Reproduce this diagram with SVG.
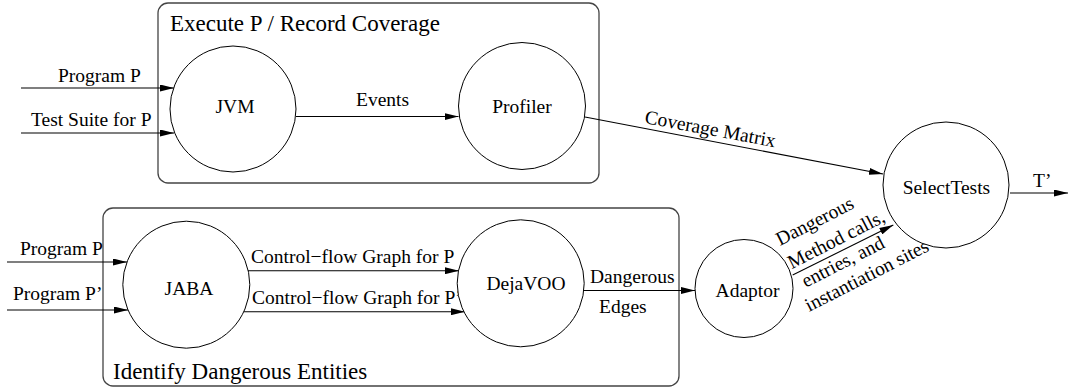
<svg xmlns="http://www.w3.org/2000/svg" width="1068" height="389" viewBox="0 0 1068 389">
<style>
.box{fill:none;stroke:#444;stroke-width:1.3}
.node{fill:#fff;stroke:#000;stroke-width:1}
.edge{fill:none;stroke:#000;stroke-width:1.1;marker-end:url(#arr)}
.t{font-family:"Liberation Serif","Times New Roman",serif;font-size:19.5px;fill:#000}
.c{text-anchor:middle}
.title{font-family:"Liberation Serif","Times New Roman",serif;font-size:23px;fill:#000}
</style>
<defs>
<marker id="arr" markerUnits="userSpaceOnUse" markerWidth="14" markerHeight="7" refX="14" refY="3.5" orient="auto">
<path d="M0,0 L14,3.5 L0,7 z" fill="#000"/>
</marker>
</defs>
<rect fill="#fff" width="1068" height="389"/>
<g id="cluster-execute">
<rect class="box" x="158" y="3" width="441" height="180" rx="10"/>
<text class="title" x="170" y="31">Execute P / Record Coverage</text>
</g>
<g id="cluster-identify">
<rect class="box" x="103" y="208" width="576" height="178" rx="10"/>
<text class="title" x="113" y="379">Identify Dangerous Entities</text>
</g>
<g id="connectors">
<line class="edge" x1="21" y1="88" x2="174" y2="88"/>
<text class="t" x="58" y="82">Program P</text>
<line class="edge" x1="21" y1="133" x2="174" y2="133"/>
<text class="t" x="31" y="126">Test Suite for P</text>
<line class="edge" x1="296" y1="116.5" x2="458.5" y2="116.5"/>
<text class="t" x="356" y="106">Events</text>
<line class="edge" x1="585" y1="117" x2="883" y2="174"/>
<text class="t" transform="translate(644,123) rotate(10.5)">Coverage Matrix</text>
<line class="edge" x1="1010" y1="193" x2="1068" y2="193"/>
<text class="t" x="1033" y="187">T’</text>
<line class="edge" x1="7" y1="262" x2="127" y2="262"/>
<text class="t" x="20" y="255">Program P</text>
<line class="edge" x1="7" y1="310" x2="128" y2="310"/>
<text class="t" x="13" y="300">Program P’</text>
<line class="edge" x1="248" y1="270.7" x2="459" y2="270.7"/>
<text class="t" x="251" y="263">Control−flow Graph for P</text>
<line class="edge" x1="244" y1="311.7" x2="465" y2="311.7"/>
<text class="t" x="252" y="304">Control−flow Graph for P’</text>
<line class="edge" x1="584" y1="290.5" x2="695" y2="290.5"/>
<text class="t" x="590" y="283">Dangerous</text>
<text class="t" x="599" y="313">Edges</text>
<line class="edge" x1="792.7" y1="275" x2="893.3" y2="225"/>
<g transform="translate(780,246) rotate(-27)">
<text class="t" x="0" y="0">Dangerous</text>
<text class="t" x="0" y="26">Method calls,</text>
<text class="t" x="4" y="49">entries, and</text>
<text class="t" x="-4" y="72">instantiation sites</text>
</g>
</g>
<g id="node-jvm">
<circle class="node" cx="233" cy="109" r="63"/>
<text class="t c" x="235" y="113">JVM</text>
</g>
<g id="node-profiler">
<circle class="node" cx="522" cy="106" r="63.5"/>
<text class="t c" x="522" y="113">Profiler</text>
</g>
<g id="node-selecttests">
<circle class="node" cx="946" cy="185" r="63"/>
<text class="t c" x="946.5" y="194">SelectTests</text>
</g>
<g id="node-jaba">
<circle class="node" cx="186.3" cy="284.7" r="63.5"/>
<text class="t c" x="189" y="295">JABA</text>
</g>
<g id="node-dejavoo">
<circle class="node" cx="520.7" cy="283.3" r="63.5"/>
<text class="t c" x="526" y="290">DejaVOO</text>
</g>
<g id="node-adaptor">
<circle class="node" cx="744" cy="288.5" r="49"/>
<text class="t c" x="747.5" y="297">Adaptor</text>
</g>
</svg>
